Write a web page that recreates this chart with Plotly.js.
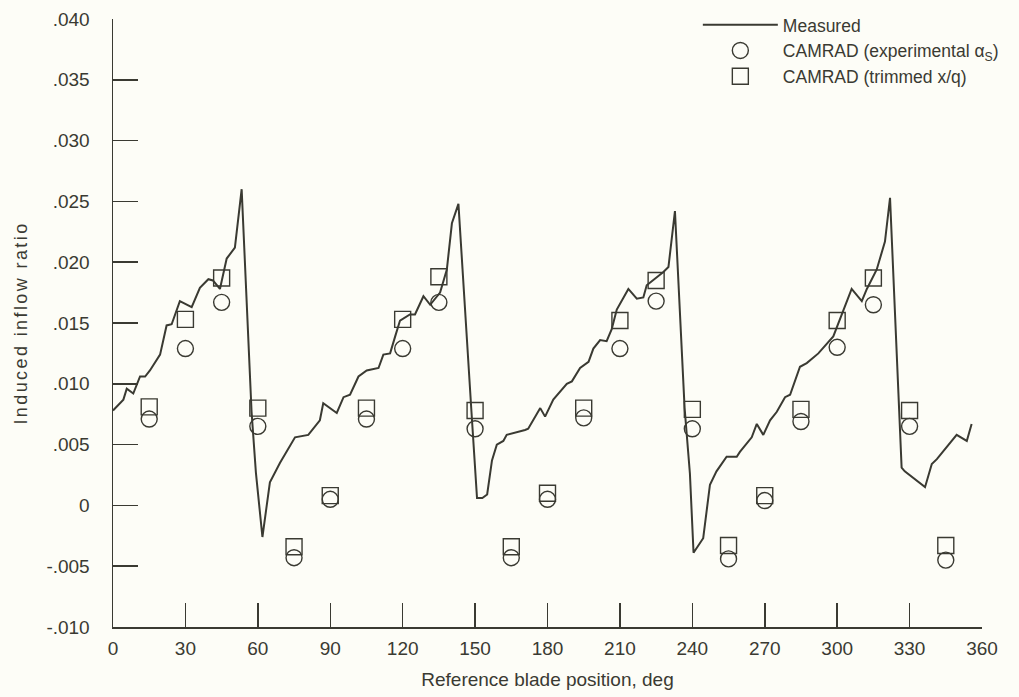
<!DOCTYPE html>
<html>
<head>
<meta charset="utf-8">
<script src="https://cdn.plot.ly/plotly-3.0.1.min.js"></script>
<style>
  html, body { margin: 0; padding: 0; background: #fdfdf7; }
  #chart { width: 1019px; height: 697px; }
  .ytitle { letter-spacing: 2.4px; }
</style>
</head>
<body>
<div id="chart"></div>
<script>
// Measured induced inflow ratio vs reference blade position (deg)
const measuredDeg = [
  0, 4.3, 5.7, 8.4, 11.2, 13.3, 15.3, 19.5, 22.2, 24.3, 27.7, 32.6, 36, 39.5, 41.4, 44.3, 47.1, 50.5, 53.3,
  57.4, 59.2, 61.9, 65, 69.2, 75.4, 80.9, 85.7, 87.1, 92.7, 95.5, 98.2, 101.7, 105.1, 110, 112, 114.8,
  116.9, 118.9, 123, 125.1, 128.6, 131.4, 135.5, 138.3, 140.4, 143.1,
  148.5, 150.8, 153, 155, 157, 159, 161.7, 163.1, 170.7, 172, 177, 179, 182.4, 188, 190.1, 193.5, 197,
  199, 201.8, 204.5, 206.6, 208.7, 213.5, 217, 219.7, 221.1, 228, 230.1, 232.8,
  236.8, 239, 240.5, 244.5, 247.3, 250, 254.2, 258.4, 259.7, 264.6, 266.7, 269.4, 272.2, 275, 278.4,
  280.5, 284.6, 287.4, 292.2, 298.4, 302.5, 306, 310.2, 312.3, 316.4, 319.8, 321.9,
  326.7, 328, 336.4, 339.2, 341.3, 349.5, 353.7, 355.7
];
const measuredVal = [
  0.0078, 0.0087, 0.0096, 0.0092, 0.0106, 0.0106, 0.0111, 0.0124, 0.0148, 0.0149, 0.0168, 0.0163, 0.0179, 0.0186, 0.0185, 0.0178, 0.0203, 0.0212, 0.0260,
  0.0077, 0.0027, -0.0026, 0.0019, 0.0035, 0.0056, 0.0058, 0.0070, 0.0084, 0.0076, 0.0089, 0.0091, 0.0106, 0.0111, 0.0113, 0.0124, 0.0125,
  0.0139, 0.0152, 0.0157, 0.0157, 0.0172, 0.0165, 0.0175, 0.0194, 0.0232, 0.0248,
  0.0077, 0.0006, 0.0006, 0.0009, 0.0037, 0.0050, 0.0053, 0.0058, 0.0062, 0.0063, 0.0080, 0.0073, 0.0087, 0.0100, 0.0102, 0.0113, 0.0118,
  0.0129, 0.0136, 0.0135, 0.0145, 0.0161, 0.0178, 0.0170, 0.0171, 0.0181, 0.0192, 0.0196, 0.0242,
  0.0080, 0.0026, -0.0039, -0.0027, 0.0017, 0.0028, 0.0040, 0.0040, 0.0044, 0.0056, 0.0067, 0.0058, 0.0070, 0.0077, 0.0089,
  0.0091, 0.0114, 0.0117, 0.0125, 0.0139, 0.0160, 0.0178, 0.0168, 0.0178, 0.0194, 0.0217, 0.0253,
  0.0031, 0.0028, 0.0015, 0.0034, 0.0038, 0.0058, 0.0053, 0.0067
];

// CAMRAD predictions at 15 deg intervals
const camradDeg = [15, 30, 45, 60, 75, 90, 105, 120, 135, 150, 165, 180, 195, 210, 225, 240, 255, 270, 285, 300, 315, 330, 345];
const camradExpAlpha = [0.0071, 0.0129, 0.0167, 0.0065, -0.0043, 0.0005, 0.0071, 0.0129, 0.0167, 0.0063, -0.0043, 0.0005,
                        0.0072, 0.0129, 0.0168, 0.0063, -0.0044, 0.0004, 0.0069, 0.0130, 0.0165, 0.0065, -0.0045];
const camradTrimmed = [0.0081, 0.0153, 0.0187, 0.0080, -0.0034, 0.0008, 0.0080, 0.0153, 0.0188, 0.0078, -0.0034, 0.0010,
                       0.0080, 0.0152, 0.0185, 0.0079, -0.0033, 0.0008, 0.0079, 0.0152, 0.0187, 0.0078, -0.0033];

const xTickVals = [0, 30, 60, 90, 120, 150, 180, 210, 240, 270, 300, 330, 360];
const yTickVals = [-0.010, -0.005, 0, 0.005, 0.010, 0.015, 0.020, 0.025, 0.030, 0.035, 0.040];
const yTickText = ['-.010', '-.005', '0', '.005', '.010', '.015', '.020', '.025', '.030', '.035', '.040'];

const ink = '#3a3a32';
const fontFam = '"Liberation Sans", Arial, sans-serif';

const traces = [
  {
    x: measuredDeg, y: measuredVal, type: 'scatter', mode: 'lines', name: 'Measured',
    line: { color: ink, width: 2 }
  },
  {
    x: camradDeg, y: camradExpAlpha, type: 'scatter', mode: 'markers',
    name: 'CAMRAD (experimental α<sub>S</sub>)',
    marker: { symbol: 'circle-open', size: 16, color: ink, line: { width: 1.4, color: ink } }
  },
  {
    x: camradDeg, y: camradTrimmed, type: 'scatter', mode: 'markers',
    name: 'CAMRAD (trimmed x/q)',
    marker: { symbol: 'square-open', size: 16, color: ink, line: { width: 1.4, color: ink } }
  }
];

const layout = {
  width: 1019, height: 697,
  margin: { l: 113, r: 37, t: 19, b: 70, autoexpand: false },
  paper_bgcolor: '#fdfdf7', plot_bgcolor: '#fdfdf7',
  font: { family: fontFam, size: 19, color: ink },
  showlegend: true,
  legend: {
    x: 0.673, y: 1.02, xanchor: 'left', yanchor: 'top',
    bgcolor: 'rgba(0,0,0,0)', borderwidth: 0,
    itemwidth: 75, tracegroupgap: 0,
    font: { family: fontFam, size: 17.5, color: ink }
  },
  xaxis: {
    range: [0, 360], tickvals: xTickVals, ticks: 'inside', ticklen: 24, tickwidth: 1.5,
    tickcolor: ink, showline: true, linecolor: ink, linewidth: 1.5, showgrid: false, zeroline: false,
    mirror: false, ticklabelstandoff: 4, automargin: false,
    tickfont: { family: fontFam, size: 19, color: ink },
    title: { text: 'Reference blade position, deg', font: { family: fontFam, size: 19, color: ink }, standoff: 14 }
  },
  yaxis: {
    range: [-0.010, 0.040], tickvals: yTickVals, ticktext: yTickText, ticks: 'inside', ticklen: 25, tickwidth: 1.5,
    tickcolor: ink, showline: true, linecolor: ink, linewidth: 1.5, showgrid: false, zeroline: false,
    ticklabelstandoff: 18, automargin: false,
    tickfont: { family: fontFam, size: 19, color: ink },
    title: { text: 'Induced inflow ratio', font: { family: fontFam, size: 18, color: ink }, standoff: 14 }
  }
};

Plotly.newPlot('chart', traces, layout, { displayModeBar: false, staticPlot: true });
</script>
</body>
</html>
